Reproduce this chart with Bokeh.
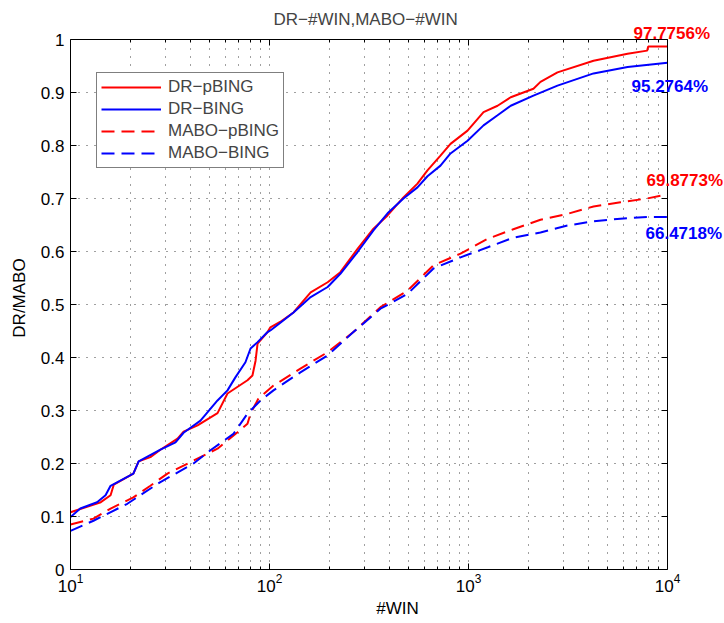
from bokeh.plotting import figure
from bokeh.models import (Range1d, FixedTicker, LogAxis, LinearAxis, Label, Legend, LegendItem,
                          BoxAnnotation, Grid)
from bokeh.embed import file_html
from bokeh.resources import INLINE

# ---- data ----
dr_pbing_x = [10, 14.2, 15.9, 16.5, 20.7, 22.0, 25.2, 28.3, 34.5, 37.0, 43.5, 54.8, 61.5, 77.5, 82.1, 85.1,
              87.1, 97.8, 101, 113, 132, 161, 196, 227, 277, 333, 392, 471, 554, 622, 723, 812, 989, 1190,
              1400, 1630, 2120, 2300, 2800, 4250, 6300, 7900, 8000, 10000]
dr_pbing_y = [0.108, 0.127, 0.14, 0.16, 0.181, 0.204, 0.212, 0.226, 0.247, 0.26, 0.272, 0.295, 0.332, 0.357,
              0.366, 0.394, 0.426, 0.448, 0.457, 0.467, 0.485, 0.523, 0.542, 0.561, 0.605, 0.643, 0.668, 0.702,
              0.728, 0.753, 0.781, 0.803, 0.828, 0.863, 0.875, 0.891, 0.907, 0.92, 0.938, 0.96, 0.973, 0.979,
              0.987, 0.987]

dr_bing_x = [10, 11.2, 13.6, 15.0, 15.9, 20.7, 22.0, 28.3, 33.7, 37.0, 45.0, 54.8, 61.5, 67.5, 75.7, 80.3,
             87.1, 97.8, 101, 113, 132, 161, 196, 227, 277, 333, 392, 471, 554, 622, 723, 812, 989, 1190,
             1400, 1630, 2120, 2800, 4250, 6300, 10000]
dr_bing_y = [0.099, 0.115, 0.127, 0.14, 0.158, 0.181, 0.204, 0.226, 0.24, 0.258, 0.281, 0.319, 0.338, 0.363,
             0.391, 0.417, 0.429, 0.448, 0.451, 0.465, 0.485, 0.514, 0.533, 0.558, 0.599, 0.64, 0.672, 0.70,
             0.721, 0.742, 0.762, 0.785, 0.809, 0.838, 0.857, 0.875, 0.894, 0.913, 0.936, 0.948, 0.956]

mabo_pbing_x = [10, 13.05, 15.9, 20.7, 25.2, 30.7, 37.0, 46.6, 54.8, 69.1, 77.5, 80.3, 88.1, 104.7, 143, 196,
                264, 361, 494, 667, 912, 1250, 1680, 2300, 3140, 4250, 5800, 7900, 9770, 10000]
mabo_pbing_y = [0.085, 0.096, 0.115, 0.136, 0.158, 0.181, 0.196, 0.215, 0.228, 0.259, 0.275, 0.294, 0.323,
                0.347, 0.379, 0.41, 0.448, 0.495, 0.526, 0.574, 0.596, 0.624, 0.642, 0.66, 0.671, 0.685, 0.693,
                0.70, 0.707, 0.707]

mabo_bing_x = [10, 13.05, 19.3, 28.3, 41.5, 50.5, 65.9, 77.5, 90.1, 104.7, 143, 196, 264, 361, 494, 667, 912,
               1250, 1680, 2300, 3140, 4250, 5800, 7900, 10000]
mabo_bing_y = [0.073, 0.092, 0.124, 0.165, 0.2, 0.225, 0.256, 0.294, 0.319, 0.338, 0.372, 0.404, 0.448, 0.492,
               0.52, 0.568, 0.589, 0.608, 0.626, 0.636, 0.649, 0.657, 0.662, 0.665, 0.665]

series_names = ["DR\u2212pBING", "DR\u2212BING", "MABO\u2212pBING", "MABO\u2212BING"]
end_labels = ["97.7756%", "95.2764%", "69.8773%", "66.4718%"]

x_major_ticks = [10, 100, 1000, 10000]
x_minor_ticks = [m * d for d in [10, 100, 1000] for m in range(2, 10)]
y_ticks = [0, 0.1, 0.2, 0.3, 0.4, 0.5, 0.6, 0.7, 0.8, 0.9, 1]
y_tick_labels = ["0", "0.1", "0.2", "0.3", "0.4", "0.5", "0.6", "0.7", "0.8", "0.9", "1"]

FONT = "Liberation Sans"
FS = "17px"

# axes box spans x 10..1e4 and y 0..1; the view is a little larger so that the
# percentage labels (which sit outside the box) are not clipped.
X0, X1 = x_major_ticks[0], x_major_ticks[-1]
Y0, Y1 = y_ticks[0], y_ticks[-1]
VIEW_X_END = 10 ** (1 + 654 / 199)
VIEW_Y_END = 543 / 530

p = figure(width=724, height=623, x_axis_type="log", output_backend="svg", toolbar_location=None,
           x_range=Range1d(X0, VIEW_X_END), y_range=Range1d(Y0, VIEW_Y_END),
           min_border_left=70, min_border_right=0, min_border_top=26, min_border_bottom=54,
           title="DR\u2212#WIN,MABO\u2212#WIN")
p.title.align = "left"
p.title.offset = 203
p.title.text_font = FONT
p.title.text_font_size = FS
p.title.text_font_style = "normal"
p.title.standoff = -4
p.background_fill_color = "white"
p.border_fill_color = "white"
p.outline_line_color = None

xticker = FixedTicker(ticks=x_major_ticks, minor_ticks=x_minor_ticks)
yticker = FixedTicker(ticks=y_ticks)

xa = p.xaxis[0]
xa.ticker = xticker
xa.bounds = (X0, X1)
ya = p.yaxis[0]
ya.ticker = yticker
ya.bounds = (Y0, Y1)
ya.major_label_overrides = {t: l for t, l in zip(y_ticks, y_tick_labels)}

for ax in (xa, ya):
    ax.major_tick_in = 6
    ax.major_tick_out = 0
    ax.minor_tick_in = 3
    ax.minor_tick_out = 0
    ax.axis_line_color = "black"
    ax.major_tick_line_color = "black"
    ax.minor_tick_line_color = "black"
    ax.major_label_text_font = FONT
    ax.major_label_text_font_size = FS
    ax.major_label_text_color = "black"
    ax.axis_label_text_font = FONT
    ax.axis_label_text_font_size = FS
    ax.axis_label_text_font_style = "normal"
    ax.axis_label_text_color = "black"
ya.minor_tick_line_color = None
xa.axis_label = "#WIN"
ya.axis_label = "DR/MABO"
xa.major_label_standoff = 4
xa.axis_label_standoff = 4
ya.major_label_standoff = 6
ya.axis_label_standoff = 9

# top edge of the box (ticks pointing down into the box)
top = LogAxis(ticker=xticker, fixed_location=Y1, bounds=(X0, X1),
              major_label_text_font_size="1px", major_label_text_color=None,
              major_tick_in=6, major_tick_out=0, minor_tick_in=3, minor_tick_out=0,
              major_label_standoff=0, axis_line_color="black")
p.add_layout(top, "above")
# right edge of the box (ticks pointing left into the box)
right = LinearAxis(ticker=yticker, fixed_location=X1, bounds=(Y0, Y1),
                   major_label_text_font_size="1px", major_label_text_color=None,
                   major_tick_in=0, major_tick_out=6, minor_tick_line_color=None,
                   major_label_standoff=0, axis_line_color="black")
p.add_layout(right, "left")

for g, tk in ((p.xgrid[0], xticker), (p.ygrid[0], yticker)):
    g.ticker = tk
    g.grid_line_color = "black"
    g.grid_line_alpha = 0.75
    g.grid_line_dash = "1 7"
    g.grid_line_width = 1
p.xgrid[0].minor_grid_line_color = "black"
p.xgrid[0].minor_grid_line_alpha = 0.75
p.xgrid[0].minor_grid_line_dash = "1 7"

if "cross_bounds" in Grid.properties():
    p.xgrid[0].cross_bounds = (Y0, Y1)
    p.ygrid[0].cross_bounds = (X0, X1)
else:
    p.add_layout(BoxAnnotation(bottom=Y1, fill_color="white", fill_alpha=1, line_color=None,
                               level="underlay"))
    p.add_layout(BoxAnnotation(left=X1, fill_color="white", fill_alpha=1, line_color=None,
                               level="underlay"))

r1 = p.line(dr_pbing_x, dr_pbing_y, line_color="#ff0000", line_width=2)
r2 = p.line(dr_bing_x, dr_bing_y, line_color="#0000ff", line_width=2)
r3 = p.line(mabo_pbing_x, mabo_pbing_y, line_color="#ff0000", line_width=2, line_dash="13 7")
r4 = p.line(mabo_bing_x, mabo_bing_y, line_color="#0000ff", line_width=2, line_dash="13 7")

legend = Legend(items=[LegendItem(label=n, renderers=[r]) for n, r in zip(series_names, [r1, r2, r3, r4])],
                location=(26, 401), glyph_width=60, glyph_height=18, label_height=18, spacing=2,
                padding=4, label_standoff=7, label_text_font=FONT, label_text_font_size=FS,
                border_line_color="black", border_line_width=1, background_fill_color="white",
                background_fill_alpha=1, margin=0)
p.add_layout(legend, "center")

ends = [(dr_pbing_x, dr_pbing_y, "#ff0000", -34, 13),
        (dr_bing_x, dr_bing_y, "#0000ff", -36, -24),
        (mabo_pbing_x, mabo_pbing_y, "#ff0000", -21, 14),
        (mabo_bing_x, mabo_bing_y, "#0000ff", -22, -16)]
for (xs, ys, c, dx, dy), txt in zip(ends, end_labels):
    p.add_layout(Label(x=xs[-1], y=ys[-1], x_offset=dx, y_offset=dy, text=txt, text_color=c,
                       text_font=FONT, text_font_size=FS, text_font_style="bold",
                       text_baseline="middle", text_align="left"))

open("out.html", "w").write(file_html(p, INLINE))
